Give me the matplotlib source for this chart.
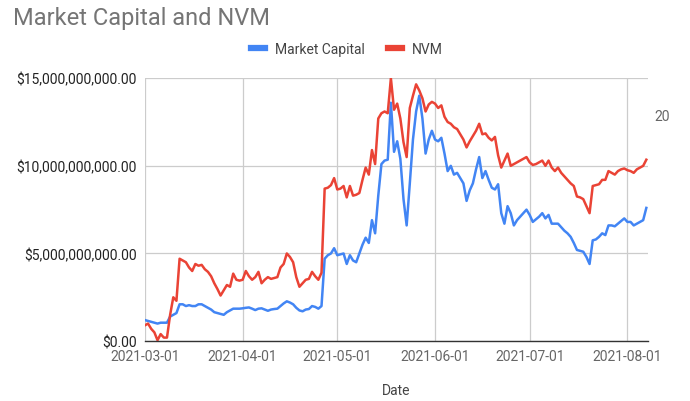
import matplotlib
matplotlib.use("Agg")
import matplotlib.pyplot as plt
import matplotlib.dates as mdates
from matplotlib.ticker import FuncFormatter
import pandas as pd

plt.rcParams['font.family'] = ['Roboto', 'DejaVu Sans']

# daily values, billions USD, from 2021-03-01
market_cap = [
    1.2, 1.15, 1.1, 1.05, 1.0, 1.05, 1.05, 1.05, 1.4, 1.5,
    1.6, 2.1, 2.1, 2.0, 2.05, 2.0, 2.0, 2.1, 2.1, 2.0,
    1.9, 1.8, 1.65, 1.6, 1.55, 1.5, 1.65, 1.75, 1.85, 1.85,
    1.85, 1.87, 1.9, 1.92, 1.85, 1.77, 1.85, 1.87, 1.8, 1.73,
    1.8, 1.83, 1.85, 2.0, 2.15, 2.27, 2.2, 2.1, 1.9, 1.75,
    1.7, 1.8, 1.83, 2.0, 1.95, 1.85, 2.0, 4.7, 4.9, 5.0,
    5.3, 4.9, 4.95, 5.0, 4.4, 4.9, 4.6, 4.5, 5.0, 5.5,
    5.9, 5.6, 6.9, 6.15, 8.3, 10.1, 10.3, 10.35, 13.6, 10.8,
    11.4, 10.4, 8.1, 6.6, 9.0, 11.5, 13.1, 14.0, 12.7, 10.7,
    11.5, 12.0, 11.5, 11.4, 11.6, 10.7, 9.7, 10.0, 9.5, 9.6,
    9.3, 9.0, 8.0, 8.6, 9.0, 9.8, 10.5, 9.3, 9.7, 9.2,
    8.75, 8.65, 8.95, 7.3, 6.7, 7.7, 7.3, 6.6, 6.9, 7.1,
    7.3, 7.5, 7.2, 6.8, 6.95, 7.1, 7.3, 7.0, 7.2, 6.7,
    6.7, 6.7, 6.5, 6.3, 6.15, 5.95, 5.6, 5.2, 5.15, 5.1,
    4.8, 4.4, 5.75, 5.8, 5.95, 6.15, 6.05, 6.6, 6.6, 6.55,
    6.7, 6.85, 7.0, 6.8, 6.8, 6.6, 6.7, 6.8, 6.9, 7.6,
]
nvm = [
    0.9, 1.0, 0.7, 0.5, 0.05, 0.4, 0.2, 0.2, 1.5, 2.5,
    2.3, 4.7, 4.6, 4.5, 4.2, 4.0, 4.4, 4.3, 4.35, 4.1,
    3.95, 3.7, 3.3, 2.97, 2.6, 2.9, 3.2, 3.1, 3.85, 3.5,
    3.45, 3.5, 4.0, 3.7, 3.5, 3.65, 3.95, 3.3, 3.5, 3.65,
    3.55, 3.6, 3.65, 4.2, 4.4, 5.0, 4.8, 4.5, 3.65, 3.1,
    3.3, 3.5, 3.55, 3.95, 3.7, 3.5, 3.9, 8.7, 8.75, 8.9,
    9.3, 8.65, 8.7, 8.85, 8.2, 8.85, 8.3, 8.35, 8.45, 9.2,
    9.9, 9.5, 10.9, 10.1, 12.7, 13.0, 13.1, 13.0, 15.0, 13.2,
    13.55, 12.7, 11.35, 10.5, 13.3, 14.0, 14.65, 14.3, 13.85, 13.1,
    13.5, 13.65, 13.55, 13.3, 13.45, 12.8, 12.5, 12.4, 12.2, 12.1,
    11.8, 11.5, 11.05, 11.4, 11.7, 12.0, 12.4, 11.8, 11.85, 11.6,
    11.45, 11.65, 10.6, 9.9, 10.3, 10.7, 10.0, 10.1, 10.2, 10.3,
    10.4, 10.5, 10.2, 10.05, 10.1, 10.2, 10.3, 10.0, 10.3, 9.9,
    9.7, 9.9, 9.6, 9.4, 9.2, 9.0, 8.85, 8.25, 8.2, 8.1,
    7.7, 7.3, 8.85, 8.9, 8.95, 9.2, 9.2, 9.7, 9.6, 9.5,
    9.7, 9.8, 9.85, 9.75, 9.7, 9.6, 9.8, 9.9, 10.0, 10.35,
]
dates = pd.date_range("2021-03-01", periods=len(market_cap), freq="D")
tick_dates = pd.to_datetime(["2021-03-01", "2021-04-01", "2021-05-01",
                             "2021-06-01", "2021-07-01", "2021-08-01"])
y_ticks = [0, 5e9, 10e9, 15e9]

BLUE = "#4285F4"
RED = "#EA4335"

fig = plt.figure(figsize=(6.9, 4.02), dpi=100)
ax = fig.add_axes([0.210, 0.149, 0.729, 0.654])

ax.plot(dates, [v * 1e9 for v in market_cap], color=BLUE, lw=1.8, label="Market Capital",
        solid_joinstyle="round")
ax.plot(dates, [v * 1e9 for v in nvm], color=RED, lw=1.8, label="NVM",
        solid_joinstyle="round")

ax.set_ylim(0, 15e9)
ax.set_xlim(dates[0], dates[-1] + pd.Timedelta(days=0.5))
ax.set_yticks(y_ticks)
ax.yaxis.set_major_formatter(FuncFormatter(lambda v, p: "${:,.2f}".format(v)))
ax.set_xticks(tick_dates)
ax.xaxis.set_major_formatter(mdates.DateFormatter("%Y-%m-%d"))

ax.grid(True, color="#cccccc", lw=0.9)
ax.set_axisbelow(True)
for s in ["top", "right", "left"]:
    ax.spines[s].set_visible(False)
ax.spines["bottom"].set_color("#333333")
ax.spines["bottom"].set_linewidth(1.0)
ax.tick_params(axis="both", length=0)
ax.tick_params(axis="y", labelsize=10, labelcolor="#222222", pad=6)
ax.tick_params(axis="x", labelsize=10, labelcolor="#666666", pad=6)

ax.set_xlabel("Date", fontsize=10, color="#444444", labelpad=14)

fig.text(0.019, 0.955, "Market Capital and NVM", fontsize=17, color="#757575",
         va="center", ha="left")
fig.legend(loc="center", bbox_to_anchor=(0.503, 0.876), ncol=2, frameon=False,
           fontsize=10, handlelength=1.0, handletextpad=0.7, columnspacing=1.7,
           labelcolor="#444444")
for h in fig.legends[0].legend_handles:
    h.set_linewidth(4.5)
fig.text(0.949, 0.71, "20", fontsize=10, color="#666666", ha="left", va="center")

fig.savefig("out.png", dpi=100)
